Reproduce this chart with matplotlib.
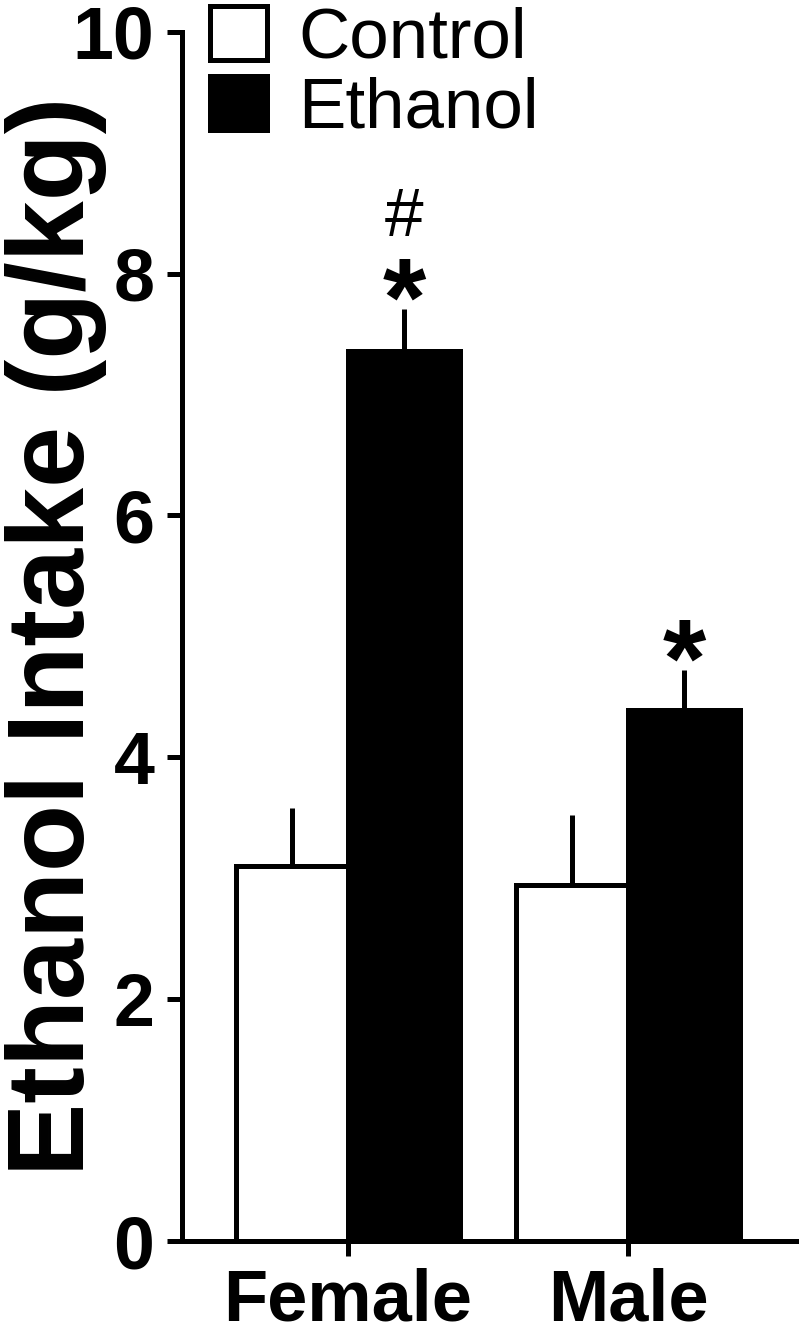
import numpy as np
import matplotlib
matplotlib.use("Agg")
import matplotlib.pyplot as plt
from matplotlib.patches import Patch

plt.rcParams['font.family'] = ['Liberation Sans', 'DejaVu Sans']

groups = ['Female', 'Male']
control_mean = [3.10, 2.94]
control_sem = [0.48, 0.58]
ethanol_mean = [7.36, 4.39]
ethanol_sem = [0.35, 0.33]
series_names = ['Control', 'Ethanol']

fig = plt.figure(figsize=(8, 13.35), dpi=100)
ax = fig.add_axes([0.2275, 0.0704, 0.7675, 0.9059])

x = np.arange(len(groups))
w = 0.4
lw = 3.6

ax.bar(x - w / 2, control_mean, width=w, color='white', edgecolor='black', linewidth=lw, zorder=3)
ax.bar(x + w / 2, ethanol_mean, width=w, color='black', edgecolor='black', linewidth=lw, zorder=3)

zeros = np.zeros(len(groups))
ax.errorbar(x - w / 2, control_mean, yerr=[zeros, control_sem], fmt='none',
            ecolor='black', elinewidth=lw, capsize=0, zorder=2)
ax.errorbar(x + w / 2, ethanol_mean, yerr=[zeros, ethanol_sem], fmt='none',
            ecolor='black', elinewidth=lw, capsize=0, zorder=2)

# significance marks: * vs control, # vs male
ax.text(x[0] + w / 2, ethanol_mean[0] + ethanol_sem[0] + 0.75, '#', ha='center', va='center',
        fontsize=50)
for i in range(len(groups)):
    ax.text(x[i] + w / 2, ethanol_mean[i] + ethanol_sem[i] + 0.02, '*', ha='center', va='center',
            fontsize=80, fontweight='bold')

ax.set_xlim(-0.593, 1.6)
ax.set_ylim(0, 10)
ax.set_yticks([0, 2, 4, 6, 8, 10])
ax.set_xticks(x)
ax.set_xticklabels(groups, fontsize=52, fontweight='bold')
for lab in ax.get_yticklabels():
    lab.set_fontsize(53)
    lab.set_fontweight('bold')

ax.spines['top'].set_visible(False)
ax.spines['right'].set_visible(False)
ax.spines['left'].set_linewidth(lw)
ax.spines['bottom'].set_linewidth(lw)
ax.tick_params(axis='both', direction='out', length=10.8, width=lw)
ax.tick_params(axis='y', pad=9)
ax.tick_params(axis='x', pad=8)

ax.set_ylabel('Ethanol Intake (g/kg)', fontsize=79, fontweight='bold')
ax.yaxis.set_label_coords(-0.122, 0.5)

handles = [Patch(facecolor='white', edgecolor='black', linewidth=lw),
           Patch(facecolor='black', edgecolor='black', linewidth=lw)]
fig.legend(handles, series_names, loc='upper left', bbox_to_anchor=(210 / 800, 1 - 6 / 1335),
           frameon=False, fontsize=51, handlelength=0.8, handleheight=0.8,
           handletextpad=0.45, labelspacing=0.05, borderpad=0, borderaxespad=0)

fig.savefig('out.png', dpi=100)
